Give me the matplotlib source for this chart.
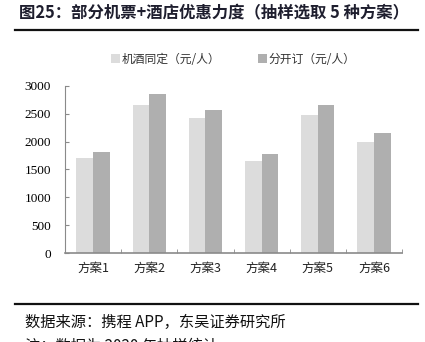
import numpy as np
import matplotlib.pyplot as plt
from matplotlib.lines import Line2D

plt.rcParams['font.family'] = ['Noto Sans CJK SC', 'DejaVu Sans']

# 样本方案及价格（元/人）
plans = ["方案1", "方案2", "方案3", "方案4", "方案5", "方案6"]
bundle_price = [1710, 2660, 2420, 1660, 2470, 2000]
separate_price = [1820, 2850, 2560, 1770, 2660, 2150]
yticks = [0, 500, 1000, 1500, 2000, 2500, 3000]

c_light = "#dcdcdc"
c_dark = "#afafaf"
c_axis = "#8a8a8a"

fig = plt.figure(figsize=(4.25, 3.42), dpi=100)
ax = fig.add_axes([0.153, 0.260, 0.793, 0.489])

x = np.arange(len(plans))
w = 0.296
ax.bar(x - w / 2, bundle_price, width=w, color=c_light, label="机酒同定（元/人）")
ax.bar(x + w / 2, separate_price, width=w, color=c_dark, label="分开订（元/人）")

ax.set_xlim(-0.5, len(plans) - 0.5)
ax.set_ylim(0, 3000)
ax.set_yticks(yticks)
ax.set_yticklabels([str(v) for v in yticks], family="Liberation Serif", fontsize=9.5)
ax.set_xticks(x)
ax.set_xticklabels(plans, fontsize=9, color="#222222")
ax.set_xticks(np.arange(-0.5, len(plans)), minor=True)
ax.tick_params(axis="x", which="major", length=0, pad=6)
ax.tick_params(axis="x", which="minor", direction="in", length=3, color=c_axis)
ax.tick_params(axis="y", direction="in", length=3, color=c_axis, pad=10)

for s in ["top", "right"]:
    ax.spines[s].set_visible(False)
ax.spines["left"].set_color(c_axis)
ax.spines["left"].set_linewidth(0.8)
ax.spines["bottom"].set_color(c_axis)
ax.spines["bottom"].set_linewidth(1.2)

# 图例
ax.legend(loc="center", bbox_to_anchor=(0.5, 1.16), ncol=2, frameon=False,
          fontsize=8.5, handlelength=0.7, handleheight=0.7, handletextpad=0.2,
          columnspacing=3.2, labelcolor="#333333")

# 标题与上下分隔线
fig.text(0.045, 0.962, "图25：部分机票+酒店优惠力度（抽样选取 5 种方案）",
         fontsize=11.8, fontweight="bold", color="#1e1e2e", va="center")
fig.add_artist(Line2D([0.035, 0.984], [0.912, 0.912], color="#111111", lw=1.6))
fig.add_artist(Line2D([0.035, 0.984], [0.111, 0.111], color="#111111", lw=1.6))

fig.text(0.058, 0.058, "数据来源：携程 APP，东吴证券研究所",
         fontsize=11, color="#111111", va="center")
fig.text(0.058, 0.012, "注：数据为 2020 年抽样统计",
         fontsize=11, color="#111111", va="top")

fig.savefig("out.png", dpi=100)
